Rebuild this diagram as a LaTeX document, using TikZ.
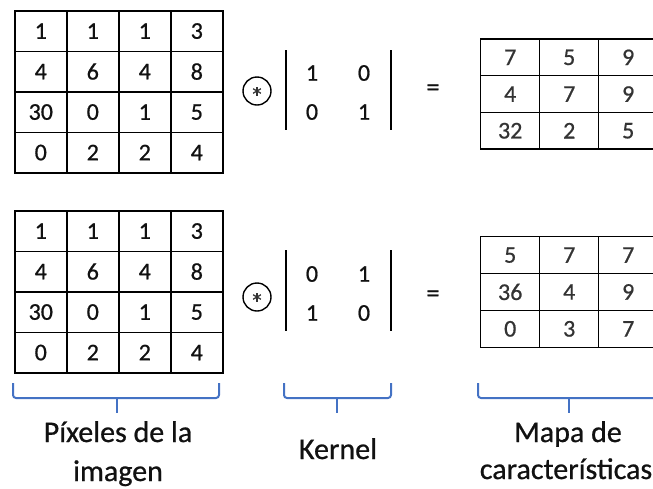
\documentclass[tikz,border=0pt]{standalone}
\usepackage{fontspec}
\setmainfont{Carlito}
\newfontfamily\heavy{Carlito}[FakeBold=0.7]
\definecolor{braceblue}{HTML}{4472C4}
\definecolor{txt}{HTML}{111111}
\definecolor{restxt}{HTML}{333333}
\begin{document}
\begin{tikzpicture}[x=1pt,y=-1pt,
  cellA/.style={draw=black, line width=1.6pt, minimum width=52pt, minimum height=40.5pt,
    inner sep=0pt, anchor=north west, text=txt, font=\heavy\fontsize{24}{24}\selectfont},
  cellR/.style={draw=black, line width=1.4pt, minimum width=59pt, minimum height=36.7pt,
    inner sep=0pt, anchor=north west, text=restxt, font=\heavy\fontsize{24}{24}\selectfont},
  knum/.style={inner sep=0pt, text=txt, font=\heavy\fontsize{24}{24}\selectfont},
  bar/.style={line width=1.6pt, black},
  op/.style={circle, draw=black, line width=1.4pt, minimum size=28pt, inner sep=0pt},
  spoke/.style={line width=1.3pt, black!80},
  eqs/.style={inner sep=0pt, text=txt, font=\heavy\fontsize{26}{26}\selectfont},
  brace/.style={draw=braceblue, line width=2pt, rounded corners=3pt},
  lab/.style={inner sep=0pt, anchor=base, text=txt, font=\heavy\fontsize{30}{30}\selectfont}]
\useasboundingbox (0,0) rectangle (653,488);

% ---------- input grids ----------
\foreach [count=\i from 0] \v in {1,1,1,3,4,6,4,8,30,0,1,5,0,2,2,4} {
  \pgfmathtruncatemacro\c{mod(\i,4)}
  \pgfmathtruncatemacro\r{div(\i,4)}
  \node[cellA] (a-\r-\c) at ({14+52*\c},{10+40.5*\r}) {\v};
  \node[cellA] (b-\r-\c) at ({14+52*\c},{210+40.5*\r}) {\v};
}

% ---------- kernels ----------
\node[op] (op1) at (257,91) {};
\node[op] (op2) at (257,297) {};
\foreach \o in {op1,op2}
  \foreach \a in {90,30,150}
    \draw[spoke] (\o.center) ++(\a:4.5) -- ++(\a+180:9);

\coordinate (k1lt) at (286,50);  \coordinate (k1lb) at (286,130);
\coordinate (k1rt) at (391,50);  \coordinate (k1rb) at (391,130);
\draw[bar] (k1lt) -- (k1lb);
\draw[bar] (k1rt) -- (k1rb);
\node[knum] (k1-11) at (312,73) {1};
\node[knum] (k1-12) at (364,73) {0};
\node[knum] (k1-21) at (312,112) {0};
\node[knum] (k1-22) at (364,112) {1};

\coordinate (k2lt) at (286,250);  \coordinate (k2lb) at (286,331);
\coordinate (k2rt) at (391,250);  \coordinate (k2rb) at (391,331);
\draw[bar] (k2lt) -- (k2lb);
\draw[bar] (k2rt) -- (k2rb);
\node[knum] (k2-11) at (312,274) {0};
\node[knum] (k2-12) at (364,274) {1};
\node[knum] (k2-21) at (312,313) {1};
\node[knum] (k2-22) at (364,313) {0};

\node[eqs] (eq1) at (433,90) {=};
\node[eqs] (eq2) at (433,296) {=};

% ---------- result grids ----------
\foreach [count=\i from 0] \v in {7,5,9,4,7,9,32,2,5} {
  \pgfmathtruncatemacro\c{mod(\i,3)}
  \pgfmathtruncatemacro\r{div(\i,3)}
  \node[cellR] (r-\r-\c) at ({480+59*\c},{38.3+36.7*\r}) {\v};
}
\foreach [count=\i from 0] \v in {5,7,7,36,4,9,0,3,7} {
  \pgfmathtruncatemacro\c{mod(\i,3)}
  \pgfmathtruncatemacro\r{div(\i,3)}
  \node[cellR] (s-\r-\c) at ({480+59*\c},{236+36.9*\r}) {\v};
}

% ---------- braces ----------
\coordinate (b1l) at (13,383);  \coordinate (b1r) at (219,383);
\coordinate (b1m) at (117,398); \coordinate (b1t) at (117,413);
\draw[brace] (b1l) -- (13,398) -- (219,398) -- (b1r);
\draw[brace] (b1m) -- (b1t);

\coordinate (b2l) at (284,383);  \coordinate (b2r) at (391,383);
\coordinate (b2m) at (337,398);  \coordinate (b2t) at (337,413);
\draw[brace] (b2l) -- (284,398) -- (391,398) -- (b2r);
\draw[brace] (b2m) -- (b2t);

\coordinate (b3l) at (478,383);  \coordinate (b3r) at (660,383);
\coordinate (b3m) at (569,398);  \coordinate (b3t) at (569,413);
\draw[brace] (b3l) -- (478,398) -- (660,398) -- (b3r);
\draw[brace] (b3m) -- (b3t);

% ---------- labels ----------
\node[lab] (l1a) at (118,442) {Píxeles de la};
\node[lab] (l1b) at (118,481) {imagen};
\node[lab] (l2) at (338,459) {Kernel};
\node[lab] (l3a) at (568,442) {Mapa de};
\node[lab] (l3b) at (566,479) {características};
\end{tikzpicture}
\end{document}
